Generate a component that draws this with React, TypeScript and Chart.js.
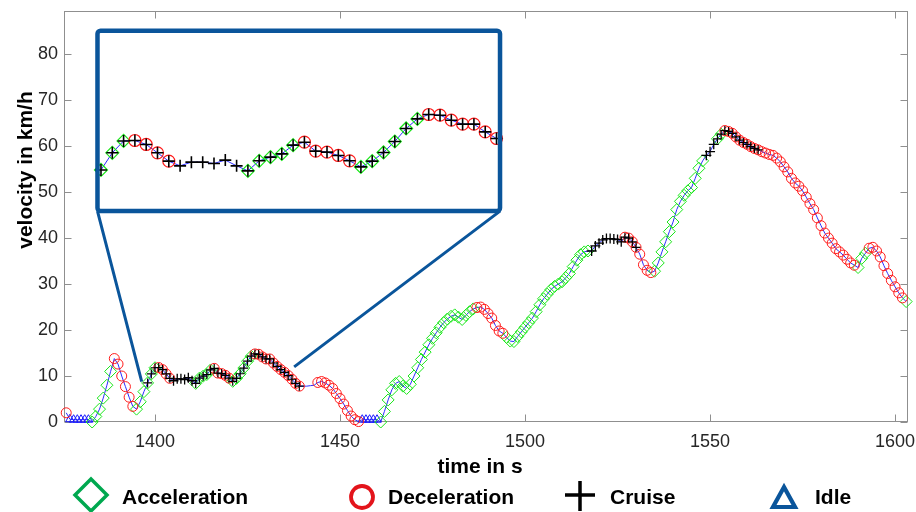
import { useEffect, useRef } from 'react';
import { Chart, registerables } from 'chart.js';

Chart.register(...registerables);

// Drive cycle excerpt sampled at 1 Hz, starting at T_START seconds.
const T_START = 1376;

// Velocity in km/h, one value per second (rows mostly follow decades of time).
const VELOCITY: number[] = [
  2.0, 0.6, 0.5, 0.5, // 1376-1379
  0.5, 0.5, 0.5, 0.0, 1.2, 2.8, 5.2, 8.0, 11.0, 13.8, // 1380s
  12.6, 10.0, 7.7, 5.4, 3.4, 2.8, 4.4, 6.6, 8.5, 10.45, // 1390s
  11.8, 11.85, 11.4, 10.45, 9.5, 8.97, 9.39, 9.39, 9.24, 9.62, // 1400s
  8.97, 8.4, 9.54, 9.96, 10.33, 11.32, 11.66, 10.64, 10.53, 10.15, // 1410s
  9.54, 8.85, 9.5, 10.49, 11.74, 13.22, 14.31, 14.81, 14.73, 14.16, // 1420s
  13.71, 13.71, 12.83, 12.08, 11.4, 10.8, 10.1, 9.3, 8.4, 7.8, // 1430s
  7.8, 7.8, 7.9, 8.0, 8.6, 8.8, 8.5, 8.0, 7.3, 6.2, // 1440s
  5.1, 3.9, 2.5, 1.3, 0.5, 0.1, 0.5, 0.5, 0.5, 0.5, // 1450s
  0.5, 0.0, 2.3, 4.8, 7.0, 8.4, 8.8, 7.8, 7.3, 8.2, // 1460s
  10.0, 11.8, 13.6, 15.2, 16.8, 18.2, 19.4, 20.6, 21.6, 22.4, // 1470s
  23.0, 23.3, 22.8, 22.3, 23.2, 24.0, 24.6, 24.9, 25.0, 24.5, // 1480s
  23.6, 22.6, 21.0, 19.8, 19.3, 18.4, 17.6, 17.5, 18.6, 19.6, // 1490s
  20.6, 21.6, 22.6, 24.0, 25.5, 26.8, 27.8, 28.8, 29.5, 30.0, // 1500s
  30.5, 31.4, 32.3, 33.8, 35.2, 36.4, 37.0, 37.2, 37.2, 38.3, // 1510s
  38.9, 39.6, 39.9, 39.9, 39.8, 39.7, 39.2, 40.2, 40.0, 39.2, // 1520s
  38.0, 36.5, 34.2, 33.0, 32.5, 32.8, 34.6, 37.0, 39.2, 41.4, // 1530s
  43.5, 46.2, 48.0, 49.3, 50.3, 51.0, 53.0, 55.2, 56.8, 58.0, // 1540s
  58.8, 60.4, 61.6, 62.6, 63.4, 63.2, 62.8, 62.0, 61.3, 60.8, // 1550s
  60.4, 59.9, 59.5, 59.2, 58.8, 58.5, 58.2, 58.0, 57.4, 56.6, // 1560s
  55.5, 54.4, 53.0, 52.0, 51.3, 50.3, 48.9, 47.5, 46.2, 44.4, // 1570s
  42.7, 41.1, 40.0, 38.9, 37.7, 37.0, 36.3, 35.4, 34.6, 34.1, // 1580s
  33.6, 35.6, 36.7, 37.8, 38.0, 37.2, 35.9, 34.0, 32.3, 30.8, // 1590s
  29.4, 28.1, 27.0, 26.2, // 1600-1603
];

// Driving phase per sample:
// A = acceleration, D = deceleration, C = cruise, I = idle, - = unclassified,
// a / d = acceleration / deceleration that also carry the cruise cross.
const PHASE_CODES: string[] = [
  'DIII',
  'IIIAAAAAAD',
  'DDDDDAAAaa',
  'addddCCCCC',
  'Caaaaadddd',
  'daaaaaaddd',
  'dddddddddd',
  '----DDDDDD',
  'DDDDDDIIII',
  'IAAAAAAAAA',
  'AAAAAAAAAA',
  'AAAAAAADDD',
  'DDDDDAAAAA',
  'AAAAAAAAAA',
  'AAAAAAAACC',
  'CCCCCCCddd',
  'dDDDDAAAAA',
  'AAAAAAAAAC',
  'CCaadddddd',
  'ddddDDDDDD',
  'DDDDDDDDDD',
  'DDDDDDDDDD',
  'AAADDDDDDD',
  'DDDA',
];

const X_TICKS = [1400, 1450, 1500, 1550, 1600];
const Y_TICKS = [0, 10, 20, 30, 40, 50, 60, 70, 80];
const X_RANGE = [1375.4, 1603.5];
const Y_RANGE = [0, 89.4];

const X_TITLE = 'time in s';
const Y_TITLE = 'velocity in km/h';
const LEGEND_LABELS = ['Acceleration', 'Deceleration', 'Cruise', 'Idle'];

// Magnifier: frame placed in main-axis coordinates, and the time/velocity window it shows.
const INSET_BOX = { x0: 1384.45, x1: 1493.24, y0: 45.87, y1: 85.1 };
const INSET_VIEW = { x0: 1397.69, x1: 1433.31, y0: 3.82, y1: 24.33 };
// Points on the trace where the magnifier's guide lines end (bottom-left, bottom-right).
const ZOOM_ANCHORS = [
  [1396.4, 8.8],
  [1437.6, 12.0],
];

const FONT = '"Liberation Sans", Arial, Helvetica, sans-serif';
const FRAME_BLUE = '#0a559b';

type Sample = { t: number; v: number; p: string };

const phases = PHASE_CODES.join('').split('');
const samples: Sample[] = VELOCITY.map((v, i) => ({ t: T_START + i, v, p: phases[i] }));

const toXY = (list: Sample[]) => list.map((s) => ({ x: s.t, y: s.v }));
const isAcc = (s: Sample) => s.p === 'A' || s.p === 'a';
const isDec = (s: Sample) => s.p === 'D' || s.p === 'd';
const isCruise = (s: Sample) => s.p === 'C';
const isIdle = (s: Sample) => s.p === 'I';
const hasCross = (s: Sample) => s.p === 'a' || s.p === 'd' || s.p === 'C';
const inView = (s: Sample) => s.t >= INSET_VIEW.x0 && s.t <= INSET_VIEW.x1;

// Linear scale spanning the whole plot area so that the magnifier frame shows the view window.
function insetRange(mainLo: number, mainHi: number, boxLo: number, boxHi: number, viewLo: number, viewHi: number) {
  const k = (viewHi - viewLo) / (boxHi - boxLo);
  return { min: viewLo - (boxLo - mainLo) * k, max: viewHi + (mainHi - boxHi) * k };
}
const XI = insetRange(X_RANGE[0], X_RANGE[1], INSET_BOX.x0, INSET_BOX.x1, INSET_VIEW.x0, INSET_VIEW.x1);
const YI = insetRange(Y_RANGE[0], Y_RANGE[1], INSET_BOX.y0, INSET_BOX.y1, INSET_VIEW.y0, INSET_VIEW.y1);

function markerSet(
  label: string,
  data: { x: number; y: number }[],
  pointStyle: string,
  color: string,
  radius: number,
  width: number,
  order: number,
  inset = false
) {
  return {
    type: 'line' as const,
    label,
    data,
    showLine: false,
    pointStyle,
    pointRadius: radius,
    pointBorderColor: color,
    pointBackgroundColor: 'rgba(0,0,0,0)',
    pointBorderWidth: width,
    xAxisID: inset ? 'xi' : 'x',
    yAxisID: inset ? 'yi' : 'y',
    order,
    clip: false as const,
  };
}

function traceLine(data: { x: number; y: number }[], order: number, inset = false) {
  return {
    type: 'line' as const,
    label: 'trace',
    data,
    borderColor: '#2b2bff',
    borderWidth: 1,
    pointRadius: 0,
    tension: 0,
    xAxisID: inset ? 'xi' : 'x',
    yAxisID: inset ? 'yi' : 'y',
    order,
    clip: false as const,
  };
}

const ACC_GREEN = '#19e619';
const DEC_RED = '#ff1a1a';
const IDLE_BLUE = '#1a1aff';

const viewSamples = samples.filter(inView);

const datasets = [
  // inset (drawn last, on top)
  markerSet('cruise-mark-inset', toXY(viewSamples.filter(hasCross)), 'cross', '#000000', 6, 1.6, 0, true),
  markerSet('dec-inset', toXY(viewSamples.filter(isDec)), 'circle', DEC_RED, 6, 1.2, 1, true),
  markerSet('acc-inset', toXY(viewSamples.filter(isAcc)), 'rectRot', ACC_GREEN, 6.5, 1.2, 2, true),
  traceLine(toXY(viewSamples), 3, true),
  // main trace
  markerSet('cruise-mark', toXY(samples.filter((s) => s.p === 'a' || s.p === 'd')), 'cross', '#000000', 4.5, 1.2, 10),
  markerSet(LEGEND_LABELS[2], toXY(samples.filter(isCruise)), 'cross', '#000000', 5, 1.3, 11),
  markerSet(LEGEND_LABELS[1], toXY(samples.filter(isDec)), 'circle', DEC_RED, 5, 1, 12),
  markerSet(LEGEND_LABELS[0], toXY(samples.filter(isAcc)), 'rectRot', ACC_GREEN, 6, 1, 13),
  markerSet(LEGEND_LABELS[3], toXY(samples.filter(isIdle)), 'triangle', IDLE_BLUE, 5, 1, 14),
  traceLine(toXY(samples), 15),
];

const framePlugin = {
  id: 'matlabFrame',
  beforeDatasetsDraw(chart: any) {
    const { ctx, chartArea: a, scales } = chart;
    const x = scales.x;
    const y = scales.y;
    ctx.save();
    ctx.strokeStyle = '#8f8f8f';
    ctx.lineWidth = 1;
    const L = Math.round(a.left) + 0.5;
    const R = Math.round(a.right) - 0.5;
    const T = Math.round(a.top) + 0.5;
    const B = Math.round(a.bottom) - 0.5;
    ctx.strokeRect(L, T, R - L, B - T);
    const tl = 7;
    ctx.beginPath();
    X_TICKS.forEach((v) => {
      const px = Math.round(x.getPixelForValue(v)) + 0.5;
      ctx.moveTo(px, B);
      ctx.lineTo(px, B - tl);
      ctx.moveTo(px, T);
      ctx.lineTo(px, T + tl);
    });
    Y_TICKS.forEach((v) => {
      const py = Math.round(y.getPixelForValue(v)) + 0.5;
      ctx.moveTo(L, py);
      ctx.lineTo(L + tl, py);
      ctx.moveTo(R, py);
      ctx.lineTo(R - tl, py);
    });
    ctx.stroke();
    ctx.restore();
  },
  afterDatasetsDraw(chart: any) {
    const { ctx, scales } = chart;
    const x = scales.x;
    const y = scales.y;
    const bx0 = x.getPixelForValue(INSET_BOX.x0);
    const bx1 = x.getPixelForValue(INSET_BOX.x1);
    const by0 = y.getPixelForValue(INSET_BOX.y0);
    const by1 = y.getPixelForValue(INSET_BOX.y1);
    ctx.save();
    ctx.strokeStyle = FRAME_BLUE;
    // guide lines to the magnified stretch
    ctx.lineWidth = 3;
    ctx.lineCap = 'butt';
    ctx.beginPath();
    ctx.moveTo(bx0, by0);
    ctx.lineTo(x.getPixelForValue(ZOOM_ANCHORS[0][0]), y.getPixelForValue(ZOOM_ANCHORS[0][1]));
    ctx.moveTo(bx1, by0);
    ctx.lineTo(x.getPixelForValue(ZOOM_ANCHORS[1][0]), y.getPixelForValue(ZOOM_ANCHORS[1][1]));
    ctx.stroke();
    // magnifier frame
    ctx.lineWidth = 4.5;
    ctx.lineJoin = 'round';
    ctx.beginPath();
    if (ctx.roundRect) ctx.roundRect(bx0, by1, bx1 - bx0, by0 - by1, 3);
    else ctx.rect(bx0, by1, bx1 - bx0, by0 - by1);
    ctx.stroke();
    ctx.restore();
  },
  afterDraw(chart: any) {
    const { ctx, chartArea: a } = chart;
    ctx.save();
    ctx.fillStyle = '#000000';
    ctx.font = `bold 21px ${FONT}`;
    // axis titles
    ctx.textAlign = 'center';
    ctx.textBaseline = 'alphabetic';
    ctx.fillText(X_TITLE, (a.left + a.right) / 2 - 6, 473);
    ctx.save();
    ctx.translate(32, 170);
    ctx.rotate(-Math.PI / 2);
    ctx.font = `bold 21px ${FONT}`;
    ctx.fillText(Y_TITLE, 0, 0);
    ctx.restore();

    // legend
    const base = 504;
    ctx.textAlign = 'left';
    ctx.fillStyle = '#000000';
    ctx.lineJoin = 'miter';
    // acceleration diamond
    ctx.strokeStyle = '#00a84f';
    ctx.lineWidth = 3.5;
    ctx.beginPath();
    ctx.moveTo(91, 479);
    ctx.lineTo(107, 495);
    ctx.lineTo(91, 511);
    ctx.lineTo(75, 495);
    ctx.closePath();
    ctx.stroke();
    ctx.fillText(LEGEND_LABELS[0], 122, base);
    // deceleration circle
    ctx.strokeStyle = '#e3141b';
    ctx.lineWidth = 3.8;
    ctx.beginPath();
    ctx.arc(362, 497, 11, 0, Math.PI * 2);
    ctx.stroke();
    ctx.fillText(LEGEND_LABELS[1], 388, base);
    // cruise cross
    ctx.strokeStyle = '#000000';
    ctx.lineWidth = 3.5;
    ctx.beginPath();
    ctx.moveTo(565, 495);
    ctx.lineTo(595, 495);
    ctx.moveTo(580, 481);
    ctx.lineTo(580, 511);
    ctx.stroke();
    ctx.fillText(LEGEND_LABELS[2], 610, base);
    // idle triangle
    ctx.strokeStyle = FRAME_BLUE;
    ctx.lineWidth = 4.2;
    ctx.beginPath();
    ctx.moveTo(784, 487);
    ctx.lineTo(795, 507);
    ctx.lineTo(773, 507);
    ctx.closePath();
    ctx.stroke();
    ctx.fillText(LEGEND_LABELS[3], 815, base);
    ctx.restore();
  },
};

const tickFont = { family: FONT, size: 18 };
const plainNumber = (value: number | string) => String(value);

export default function App() {
  const canvasRef = useRef<HTMLCanvasElement>(null);

  useEffect(() => {
    document.body.style.margin = '0';
    const canvas = canvasRef.current;
    if (!canvas) return;
    const chart = new Chart(canvas, {
      type: 'line',
      data: { datasets: datasets as any },
      options: {
        responsive: false,
        devicePixelRatio: 1,
        animation: false,
        events: [],
        layout: { padding: { left: 0, right: 8, top: 11, bottom: 0 } },
        plugins: { legend: { display: false }, tooltip: { enabled: false } },
        scales: {
          x: {
            type: 'linear',
            position: 'bottom',
            min: X_RANGE[0],
            max: X_RANGE[1],
            grid: { display: false, drawTicks: false },
            border: { display: false },
            ticks: {
              font: tickFont,
              color: '#262626',
              padding: 9,
              maxRotation: 0,
              autoSkip: false,
              callback: plainNumber,
            },
            afterBuildTicks: (s: any) => {
              s.ticks = X_TICKS.map((value) => ({ value }));
            },
            afterFit: (s: any) => {
              s.height = 90;
              s.paddingLeft = 0;
              s.paddingRight = 0;
            },
          },
          y: {
            type: 'linear',
            position: 'left',
            min: Y_RANGE[0],
            max: Y_RANGE[1],
            grid: { display: false, drawTicks: false },
            border: { display: false },
            ticks: { font: tickFont, color: '#262626', padding: 6, autoSkip: false, callback: plainNumber },
            afterBuildTicks: (s: any) => {
              s.ticks = Y_TICKS.map((value) => ({ value }));
            },
            afterFit: (s: any) => {
              s.width = 64;
              s.paddingTop = 0;
              s.paddingBottom = 0;
            },
          },
          xi: { type: 'linear', display: false, min: XI.min, max: XI.max },
          yi: { type: 'linear', display: false, min: YI.min, max: YI.max },
        },
      },
      plugins: [framePlugin],
    } as any);
    return () => chart.destroy();
  }, []);

  return (
    <div style={{ width: 916, height: 512 }}>
      <canvas ref={canvasRef} width={916} height={512} style={{ display: 'block', width: 916, height: 512 }} />
    </div>
  );
}
